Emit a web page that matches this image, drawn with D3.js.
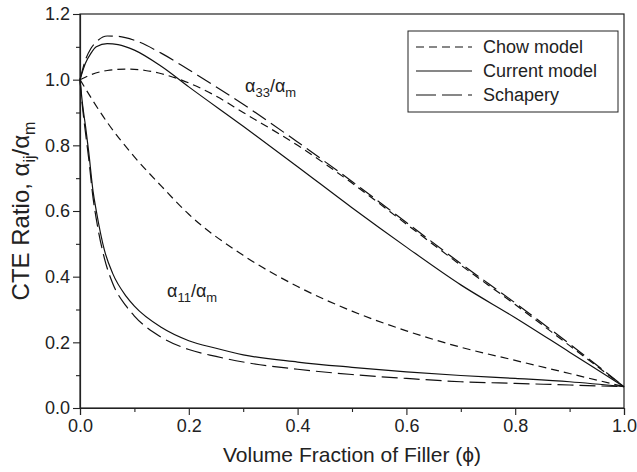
<!DOCTYPE html>
<html>
<head>
<meta charset="utf-8">
<script src="https://cdn.jsdelivr.net/npm/d3@7"></script>
<style>
  html, body { margin: 0; padding: 0; background: #fff; }
  svg { display: block; font-family: "Liberation Sans", Arial, sans-serif; }
</style>
</head>
<body>
<svg id="chart" width="637" height="472"></svg>
<script>
// Volume fraction of filler (phi) sample points for each curve
const phiA33 = [0, 0.01, 0.02, 0.03, 0.05, 0.07, 0.1, 0.15, 0.2, 0.3, 0.4, 0.5, 0.6, 0.7, 0.8, 0.9, 1.0];
const chowPhiA33 = [0, 0.02, 0.05, 0.085, 0.12, 0.15, 0.2, 0.25, 0.3, 0.4, 0.5, 0.6, 0.7, 0.8, 0.9, 1.0];
const phiA11 = [0, 0.005, 0.01, 0.016, 0.024, 0.03, 0.045, 0.06, 0.085, 0.1, 0.15, 0.2, 0.25, 0.3, 0.4, 0.5, 0.6, 0.7, 0.8, 0.9, 1.0];
const chowPhiA11 = [0, 0.05, 0.1, 0.15, 0.2, 0.3, 0.4, 0.5, 0.6, 0.7, 0.8, 0.9, 1.0];

// Longitudinal CTE ratio alpha33/alpham
const currentA33  = [1.0, 1.05, 1.08, 1.10, 1.11, 1.107, 1.09, 1.04, 0.978, 0.858, 0.735, 0.61, 0.49, 0.375, 0.275, 0.17, 0.065];
const schaperyA33 = [1.0, 1.06, 1.095, 1.115, 1.133, 1.132, 1.12, 1.08, 1.03, 0.925, 0.81, 0.69, 0.565, 0.44, 0.32, 0.195, 0.065];
const chowA33     = [1.0, 1.015, 1.028, 1.032, 1.028, 1.018, 0.99, 0.95, 0.90, 0.80, 0.685, 0.56, 0.435, 0.315, 0.19, 0.065];

// Transverse CTE ratio alpha11/alpham
const currentA11  = [1.0, 0.92, 0.86, 0.78, 0.66, 0.60, 0.48, 0.41, 0.34, 0.31, 0.245, 0.205, 0.182, 0.162, 0.14, 0.124, 0.11, 0.099, 0.09, 0.08, 0.065];
const schaperyA11 = [1.0, 0.91, 0.84, 0.76, 0.64, 0.575, 0.455, 0.38, 0.31, 0.28, 0.215, 0.178, 0.157, 0.14, 0.118, 0.102, 0.09, 0.08, 0.075, 0.07, 0.065];
const chowA11     = [1.0, 0.87, 0.765, 0.675, 0.59, 0.465, 0.37, 0.295, 0.235, 0.185, 0.145, 0.105, 0.065];

const xTicks = [0, 0.2, 0.4, 0.6, 0.8, 1.0];
const yTicks = [0, 0.2, 0.4, 0.6, 0.8, 1.0, 1.2];
const xMinor = [0.1, 0.3, 0.5, 0.7, 0.9];
const yMinor = [0.1, 0.3, 0.5, 0.7, 0.9, 1.1];

const legendNames = ["Chow model", "Current model", "Schapery"];
const dashes = { chow: "8,5", current: null, schapery: "16,6" };

const svg = d3.select("#chart");
const plotLeft = 80, plotRight = 624, plotTop = 14, plotBottom = 408;

const x = d3.scaleLinear().domain([0, 1]).range([plotLeft, plotRight]);
const y = d3.scaleLinear().domain([0, 1.2]).range([plotBottom, plotTop]);

// frame
svg.append("rect")
  .attr("x", plotLeft).attr("y", plotTop)
  .attr("width", plotRight - plotLeft).attr("height", plotBottom - plotTop)
  .attr("fill", "none").attr("stroke", "#222").attr("stroke-width", 1.2);

// axes
const fmt = d3.format(".1f");
svg.append("g").attr("transform", `translate(0,${plotBottom})`)
  .call(d3.axisBottom(x).tickValues(xTicks).tickFormat(fmt).tickSize(7).tickPadding(4));
svg.append("g").attr("transform", `translate(0,${plotBottom})`)
  .call(d3.axisBottom(x).tickValues(xMinor).tickFormat("").tickSize(4))
  .call(g => g.select(".domain").remove());
svg.append("g").attr("transform", `translate(${plotLeft},0)`)
  .call(d3.axisLeft(y).tickValues(yTicks).tickFormat(fmt).tickSize(7).tickPadding(3));
svg.append("g").attr("transform", `translate(${plotLeft},0)`)
  .call(d3.axisLeft(y).tickValues(yMinor).tickFormat("").tickSize(4))
  .call(g => g.select(".domain").remove());

svg.selectAll(".tick line").attr("stroke", "#222").attr("stroke-width", 1.1);
svg.selectAll(".domain").attr("stroke", "#222").attr("stroke-width", 1.2);
svg.selectAll(".tick text").attr("font-size", 18).attr("fill", "#222")
  .attr("font-family", "Liberation Sans, Arial, sans-serif");

// axis titles
svg.append("text")
  .attr("x", (plotLeft + plotRight) / 2).attr("y", 462)
  .attr("text-anchor", "middle").attr("font-size", 21).attr("fill", "#222")
  .text("Volume Fraction of Filler (ϕ)");

const yTitle = svg.append("text")
  .attr("transform", `translate(29,${(plotTop + plotBottom) / 2}) rotate(-90)`)
  .attr("text-anchor", "middle").attr("font-size", 24).attr("fill", "#222");
yTitle.append("tspan").text("CTE Ratio, α");
yTitle.append("tspan").attr("font-size", 16).attr("dy", 6).text("ij");
yTitle.append("tspan").attr("dy", -6).text("/α");
yTitle.append("tspan").attr("font-size", 16).attr("dy", 6).text("m");

// curves
const line = d3.line()
  .x(d => x(d[0])).y(d => y(d[1]))
  .curve(d3.curveMonotoneX);

const series = [
  { xs: chowPhiA33, ys: chowA33, dash: dashes.chow },
  { xs: phiA33, ys: currentA33, dash: dashes.current },
  { xs: phiA33, ys: schaperyA33, dash: dashes.schapery },
  { xs: chowPhiA11, ys: chowA11, dash: dashes.chow },
  { xs: phiA11, ys: currentA11, dash: dashes.current },
  { xs: phiA11, ys: schaperyA11, dash: dashes.schapery }
];

svg.append("g").selectAll("path").data(series).join("path")
  .attr("d", s => line(s.xs.map((v, i) => [v, s.ys[i]])))
  .attr("fill", "none").attr("stroke", "#111").attr("stroke-width", 1.2)
  .attr("stroke-dasharray", s => s.dash);

// curve labels
function ratioLabel(px, py, sub) {
  const t = svg.append("text").attr("x", px).attr("y", py)
    .attr("font-size", 18).attr("fill", "#222");
  t.append("tspan").text("α");
  t.append("tspan").attr("font-size", 13).attr("dy", 5).text(sub);
  t.append("tspan").attr("dy", -5).text("/α");
  t.append("tspan").attr("font-size", 13).attr("dy", 5).text("m");
}
ratioLabel(245, 92, "33");
ratioLabel(167, 297, "11");

// legend
const lg = svg.append("g");
lg.append("rect").attr("x", 408).attr("y", 31).attr("width", 210).attr("height", 81)
  .attr("fill", "#fff").attr("stroke", "#222").attr("stroke-width", 1);
const legendDash = [dashes.chow, dashes.current, "20,6"];
legendNames.forEach((name, i) => {
  const cy = 47 + i * 24;
  lg.append("line").attr("x1", 416).attr("x2", 472).attr("y1", cy).attr("y2", cy)
    .attr("stroke", "#111").attr("stroke-width", 1.2)
    .attr("stroke-dasharray", legendDash[i]);
  lg.append("text").attr("x", 483).attr("y", cy + 6)
    .attr("font-size", 18).attr("fill", "#222").text(name);
});
</script>
</body>
</html>
